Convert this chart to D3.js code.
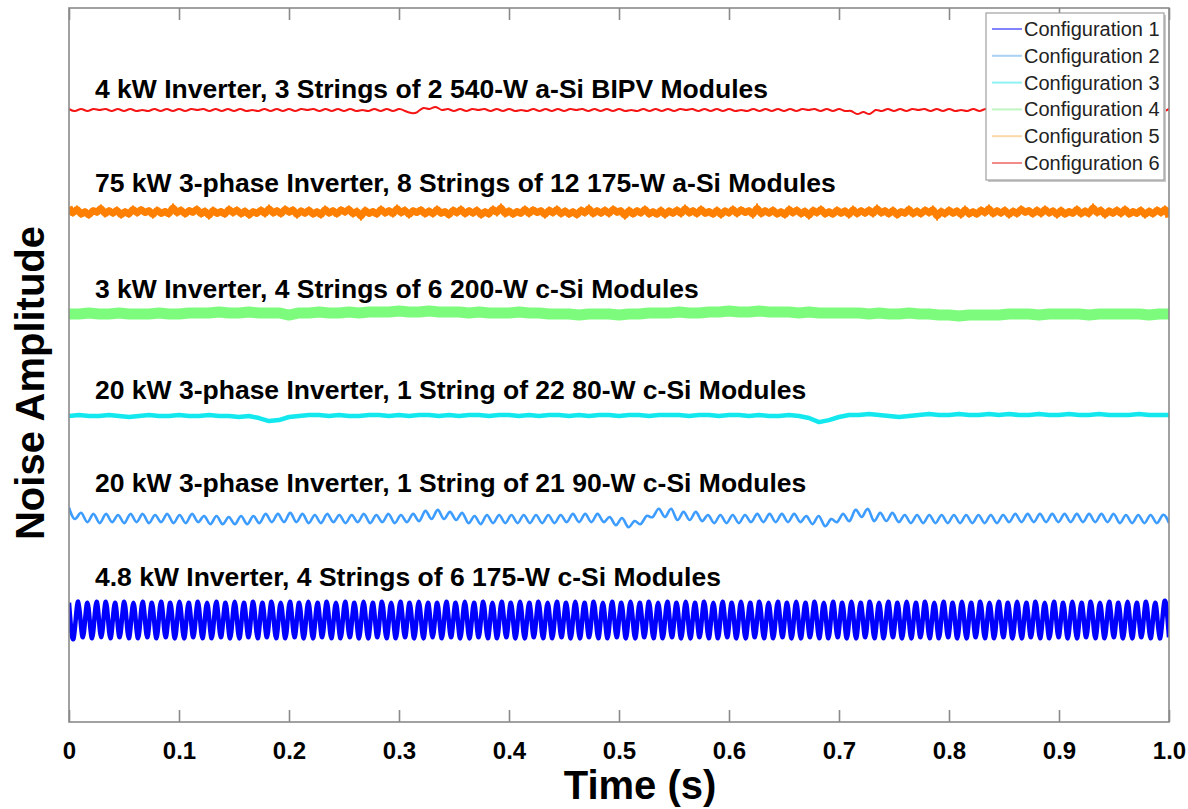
<!DOCTYPE html>
<html><head><meta charset="utf-8">
<script src="https://cdn.jsdelivr.net/npm/d3@7"></script>
<style>body{margin:0;background:#fff}svg{display:block}</style>
</head><body>
<svg id="chart" width="1188" height="809"></svg>
<script>
// ---------- data ----------
const xTicks = [0, 0.1, 0.2, 0.3, 0.4, 0.5, 0.6, 0.7, 0.8, 0.9, 1.0];
const xTickLabels = ["0", "0.1", "0.2", "0.3", "0.4", "0.5", "0.6", "0.7", "0.8", "0.9", "1.0"];
const seriesNames = ["Configuration 1", "Configuration 2", "Configuration 3", "Configuration 4", "Configuration 5", "Configuration 6"];
const seriesLabels = [
  "4.8 kW Inverter, 4 Strings of 6 175-W c-Si Modules",
  "20 kW 3-phase Inverter, 1 String of 21 90-W c-Si Modules",
  "20 kW 3-phase Inverter, 1 String of 22 80-W c-Si Modules",
  "3 kW Inverter, 4 Strings of 6 200-W c-Si Modules",
  "75 kW 3-phase Inverter, 8 Strings of 12 175-W a-Si Modules",
  "4 kW Inverter, 3 Strings of 2 540-W a-Si BIPV Modules"
];
const seriesOffsets = [1, 2, 3, 4, 5, 6];          // vertical stacking of traces
const labelLevels = [1.333, 2.255, 3.167, 4.157, 5.196, 6.118]; // label baselines (data units)
const ampUnit = 0.01;                               // noise values below are in hundredths

const config1 = [
 17,-18,18,-17,17,-18,18,-17,18,-18,17,-17,18,-18,17,-18,18,-17,17,-18,
 18,-17,17,-18,18,-18,17,-17,18,-18,17,-18,18,-17,17,-18,18,-18,17,-17,
 18,-18,17,-17,18,-18,17,-18,18,-17,17,-18,18,-18,17,-17,18,-18,17,-18,
 18,-17,17,-18,18,-18,17,-17,18,-18,17,-18,18,-17,17,-18,18,-18,17,-17,
 17,-18,18,-17,17,-18,18,-18,17,-17,18,-18,17,-18,18,-17,17,-18,18,-18,
 17,-17,18,-18,17,-18,18,-17,17,-18,18,-18,17,-17,18,-18,17,-18,18,-17,
 17,-18,18,-18,17,-17,18,-18,17,-18,18,-17,17,-18,18,-18,17,-17,18,-18,
 17,-18,18,-17,17,-18,18,-18,17,-17,18,-18,17,-18,18,-17,17,-18,18,-18,
 17,-17,18,-18,17,-18,18,-17,17,-18,18,-18,17,-17,18,-18,17,-18,18,-17,
 17,-18,18,-18,17,-17,18,-18,17,-18,18,-17,17,-18,18,-18,17,-17,18,-18,
 17,-18,18,-17,17,-18,18,-18,17,-17,18,-18,17,-18,18,-17,17,-18,18,-18,
 17,-17,18,-18,17,-18,18,-17,17,-18,18,-18,17,-17,18,-18,17,-18,18,-17
];
const config2 = [
 10,-1,5,-4,4,-5,4,-4,3,-5,4,-4,4,-5,3,-4,4,-5,3,-5,
 4,-4,2,-6,2,-6,1,-6,2,-6,2,-5,4,-4,4,-4,5,-4,4,-5,
 3,-5,4,-4,3,-5,3,-4,4,-5,3,-4,4,-5,3,-4,4,-3,7,-1,
 8,-1,6,-2,5,-5,2,-6,3,-5,3,-5,3,-5,3,-5,3,-5,3,-5,
 3,-4,4,-4,4,-4,4,-4,1,-7,0,-9,-3,-6,2,1,9,1,9,-2,
 6,-2,6,-3,3,-5,3,-5,3,-5,3,-4,4,-4,4,-4,4,-4,4,-4,
 2,-6,2,-8,-1,-4,4,-3,8,1,9,-3,5,-3,5,-4,3,-5,3,-5,
 3,-5,3,-5,3,-5,3,-5,3,-5,3,-5,3,-4,4,-4,4,-4,4,-4,
 4,-4,4,-4,4,-4,4,-4,4,-4,4,-5,3,-5,3,-5,3,-5,3,-5
];
const config3 = [
 0,1,0,0,1,0,-1,0,1,0,0,1,0,0,1,0,0,-1,0,
 -2,-5,-4,-1,
 0,1,1,0,1,0,0,1,1,0,1,0,1,1,0,1,0,1,1,0,1,1,0,1,0,1,1,0,1,0,1,1,0,1,1,0,1,1,
 1,0,1,1,0,1,1,0,1,0,0,1,0,
 -2,-6,-4,-1,
 1,1,2,1,
 0,-1,0,
 1,2,1,1,2,1,1,2,1,2,1,1,2,1,1,2,1,1,2,1,1,1,2,1,1,1
];
const config4 = [
 0,0,1,0,0,1,0,0,0,1,0,0,1,1,
 1,2,1,1,2,1,1,1,
 -1,
 1,1,2,1,1,2,1,2,
 2,2,3,2,2,3,2,2,2,
 1,2,1,1,1,2,1,1,0,
 0,0,-1,0,0,0,-1,0,0,
 1,1,1,2,1,1,
 2,2,3,2,2,3,2,2,2,
 1,2,1,1,1,1,1,0,1,
 0,0,1,0,0,
 -1,-1,-2,-1,-1,-1,-1,
 0,0,0,-1,0,0,0,0,-1,0,0,0,0,0,-1,0,0
];
const config5 = [
 5,-4,6,-5,3,-6,4,-3,7,-5,4,-4,5,-6,3,-5,6,-4,5,-3,
 4,-6,5,-4,3,-5,8,-4,5,-5,4,-3,6,-5,4,-7,5,-4,3,-5,
 6,-4,5,-5,4,-6,3,-4,5,-5,7,-4,4,-5,6,-3,5,-6,4,-4,
 5,-5,3,-6,6,-4,4,-5,5,-3,6,-5,4,-8,5,-4,3,-5,6,-4,
 4,-5,7,-4,5,-6,4,-3,5,-5,4,-5,6,-4,3,-6,5,-4,6,-5,
 4,-4,5,-6,3,-5,6,-4,8,-5,4,-5,3,-4,6,-5,5,-3,4,-6,
 5,-4,6,-5,4,-5,3,-6,5,-4,7,-5,4,-4,5,-5,6,-3,4,-7,
 5,-5,4,-4,6,-5,3,-5,5,-6,4,-4,5,-5,7,-4,4,-5,6,-4,
 3,-5,5,-6,4,-4,6,-5,5,-3,4,-6,8,-5,4,-4,5,-5,3,-6,
 6,-4,5,-5,4,-7,5,-4,6,-5,3,-5,5,-4,4,-6,6,-5,4,-4,
 5,-5,7,-4,4,-5,5,-6,3,-4,6,-5,4,-5,5,-4,6,-8,4,-5,
 5,-4,4,-6,6,-5,3,-5,5,-4,7,-5,4,-4,5,-6,4,-5,6,-3,
 4,-5,5,-5,6,-4,4,-6,5,-5,3,-4,6,-5,4,-5,8,-4,5,-6,
 4,-4,5,-5,6,-5,3,-4,5,-6,4,-5,5,-4,6,-5
];
const config6 = [
 1,-1,1,-1,1,0,1,-1, 1,-1,1,-1,0,-1,1,-1, 1,-1,1,-1,1,0,1,-1, 1,-1,1,-1,1,-1,0,-1,
 1,-1,1,-1,1,-1,1,0, 1,-1,1,-1,1,-1,1,-1, 0,-1,1,-1,1,-1,1,-1,
 -3,-2,2,1,3,0,
 1,-1,1,-1,1,0,1,-1, 1,-1,1,-1,0,-1,1,-1, 1,-1,1,-1,1,0,1,-1, 1,-1,1,-1,1,-1,0,-1,
 1,-1,1,-1,1,-1,1,0, 1,-1,1,-1,1,-1,1,-1, 0,-1,1,-1,1,-1,1,-1, 1,-1,1,0,1,-1,1,-1, 1,-1,
 -1,-4,-2,-4,0,-1,
 1,-1,1,-1,1,0,1,-1, 1,-1,1,-1,0,-1,1,-1, 1,-1,1,-1,1,0,1,-1, 1,-1,1,-1,1,-1,0,-1,
 1,-1,1,-1,1,-1,1,0, 1,-1,1,-1,1,-1,1
];
const seriesValues = [config1, config2, config3, config4, config5, config6];

// ---------- styles ----------
const colors = ["#0000ff", "#3d9cff", "#12e8ee", "#7dfb7d", "#ff8000", "#f51515"];
const legendColors = ["#8282ff", "#a9d2f5", "#90f2f2", "#c0f7c0", "#fad9a8", "#f38a8a"];
const FONT = "Arial, 'Liberation Sans', Helvetica, sans-serif";
// each trace: list of [curve, stroke width] layers drawn from the same values
const layers = [
  [[d3.curveNatural, 4.5]],
  [[d3.curveNatural, 2.6]],
  [[d3.curveLinear, 4.5]],
  [[d3.curveLinear, 11]],
  [[d3.curveBasis, 7], [d3.curveLinear, 1.5]],
  [[d3.curveNatural, 2]]
];

const svg = d3.select("#chart");
const m = {left: 69, top: 8, right: 19, bottom: 87};
const W = 1188 - m.left - m.right, H = 809 - m.top - m.bottom;
const x = d3.scaleLinear().domain([0, 1]).range([m.left, m.left + W]);
const y = d3.scaleLinear().domain([0, 7]).range([m.top + H, m.top]);

svg.append("defs").append("clipPath").attr("id", "clip")
  .append("rect").attr("x", m.left).attr("y", m.top).attr("width", W).attr("height", H);

const plot = svg.append("g").attr("clip-path", "url(#clip)");
seriesValues.forEach((vals, k) => {
  const n = vals.length;
  const pts = vals.map((v, i) => [i / (n - 1), seriesOffsets[k] + v * ampUnit]);
  layers[k].forEach(([curve, w]) => {
    const line = d3.line().x(d => x(d[0])).y(d => y(d[1])).curve(curve);
    plot.append("path").datum(pts).attr("d", line)
      .attr("fill", "none").attr("stroke", colors[k]).attr("stroke-width", w)
      .attr("stroke-linejoin", "round");
  });
});

// series titles
seriesLabels.forEach((t, k) => {
  svg.append("text").attr("x", m.left + 26).attr("y", y(labelLevels[k]))
    .attr("font-family", FONT).attr("font-weight", "bold").attr("font-size", 26.5)
    .attr("fill", "#000").text(t);
});

// axes box and ticks
svg.append("rect").attr("x", m.left).attr("y", m.top).attr("width", W).attr("height", H)
  .attr("fill", "none").attr("stroke", "#8a8a8a").attr("stroke-width", 1.6);

const xb = svg.append("g").attr("transform", `translate(0,${m.top + H})`)
  .call(d3.axisBottom(x).tickValues(xTicks).tickFormat((d, i) => xTickLabels[i]).tickSizeInner(-12).tickSizeOuter(0));
xb.select(".domain").remove();
xb.selectAll(".tick line").attr("stroke", "#8a8a8a").attr("stroke-width", 1.6);
xb.selectAll(".tick text").attr("y", 37).attr("dy", null)
  .attr("font-family", FONT).attr("font-weight", "bold").attr("font-size", 24).attr("fill", "#000");

const xt = svg.append("g").attr("transform", `translate(0,${m.top})`)
  .call(d3.axisTop(x).tickValues(xTicks).tickFormat("").tickSizeInner(-12).tickSizeOuter(0));
xt.select(".domain").remove();
xt.selectAll(".tick line").attr("stroke", "#8a8a8a").attr("stroke-width", 1.6);

// axis titles
svg.append("text").attr("x", 640).attr("y", 799).attr("text-anchor", "middle")
  .attr("font-family", FONT).attr("font-weight", "bold").attr("font-size", 40).text("Time (s)");
svg.append("text").attr("transform", `translate(44,${383}) rotate(-90)`).attr("text-anchor", "middle")
  .attr("font-family", FONT).attr("font-weight", "bold").attr("font-size", 40).text("Noise Amplitude");

// legend
const lg = svg.append("g");
lg.append("rect").attr("x", 988).attr("y", 15).attr("width", 178).attr("height", 167).attr("fill", "#c8c8c8");
lg.append("rect").attr("x", 986).attr("y", 13).attr("width", 178).attr("height", 167)
  .attr("fill", "#fff").attr("stroke", "#a0a0a0").attr("stroke-width", 1.2);
seriesNames.forEach((nm, k) => {
  const yy = 29 + k * 26.8;
  lg.append("line").attr("x1", 992).attr("x2", 1022).attr("y1", yy).attr("y2", yy)
    .attr("stroke", legendColors[k]).attr("stroke-width", 2);
  lg.append("text").attr("x", 1024).attr("y", yy).attr("dy", "0.35em")
    .attr("font-family", FONT).attr("font-size", 20).attr("fill", "#222").text(nm);
});
</script>
</body></html>
